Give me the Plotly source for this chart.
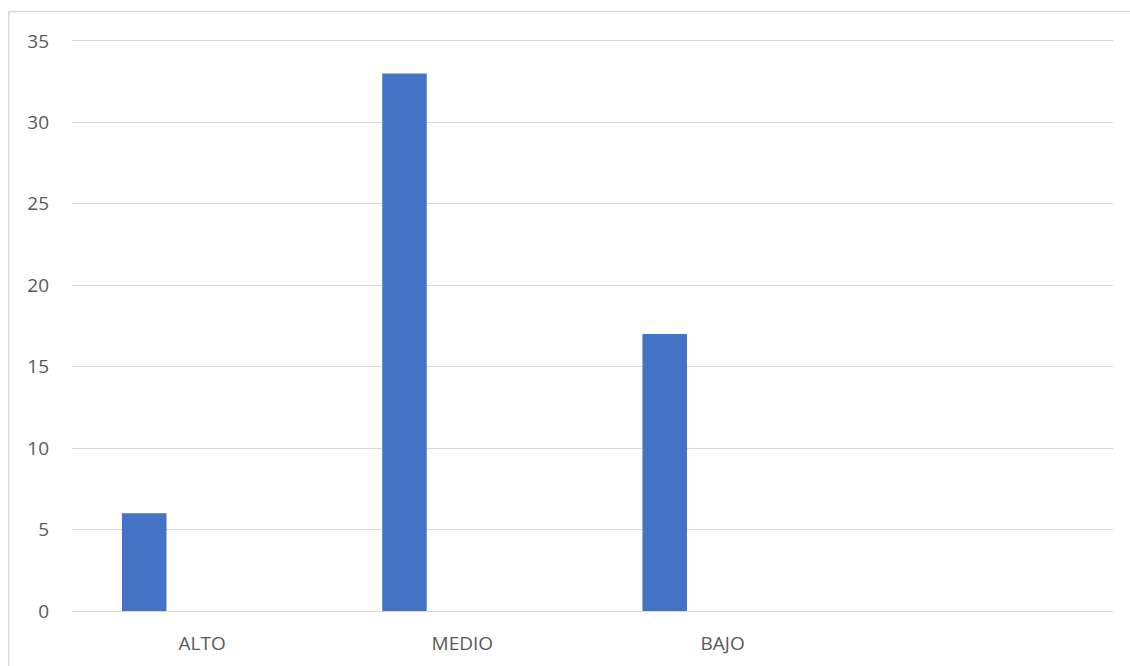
import plotly.graph_objects as go

categories = ["ALTO", "MEDIO", "BAJO"]
values = [6, 33, 17]
y_ticks = [0, 5, 10, 15, 20, 25, 30, 35]

W, H = 1130, 666
L, R, T, B = 72, 17, 36, 55
pw, ph = W - L - R, H - T - B

fig = go.Figure()
fig.add_trace(go.Bar(
    x=list(range(len(categories))),
    y=values,
    marker=dict(color="#4472C4", line=dict(width=0)),
    offset=-0.308,
    width=0.171,
    hoverinfo="skip",
))

border_x = (8.8 - L) / pw
border_y = (H - 11.5 - B) / ph
border = dict(color="#D9D9D9", width=1.5)

fig.update_layout(
    width=W, height=H,
    margin=dict(l=L, r=R, t=T, b=B, autoexpand=False),
    paper_bgcolor="white", plot_bgcolor="white",
    showlegend=False,
    font=dict(family="Open Sans, Liberation Sans, sans-serif", size=19, color="#595959"),
    xaxis=dict(
        range=[-0.5, 3.5],
        tickvals=list(range(len(categories))),
        ticktext=categories,
        showgrid=False, zeroline=False, showline=False,
        ticks="", ticklabelstandoff=19,
        tickfont=dict(size=19, color="#595959"),
        fixedrange=True,
    ),
    yaxis=dict(
        range=[0, 35.3],
        tickvals=y_ticks,
        showgrid=True, gridcolor="#D9D9D9", gridwidth=1.3,
        zeroline=True, zerolinecolor="#D9D9D9", zerolinewidth=1.3,
        showline=False, ticks="", ticklabelstandoff=22,
        tickfont=dict(size=19, color="#595959"),
        fixedrange=True,
    ),
    shapes=[
        dict(type="line", xref="paper", yref="paper",
             x0=border_x, x1=(W - L) / pw, y0=border_y, y1=border_y,
             line=border, layer="below"),
        dict(type="line", xref="paper", yref="paper",
             x0=border_x, x1=border_x, y0=-B / ph, y1=border_y,
             line=border, layer="below"),
    ],
)

fig.write_html(
    "out.html",
    config={"displayModeBar": False},
    post_script="document.body.style.margin='0';document.body.style.overflow='hidden';",
)
